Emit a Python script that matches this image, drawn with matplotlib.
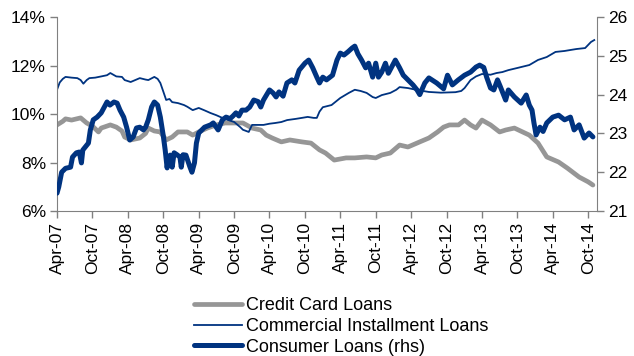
import matplotlib
matplotlib.use("Agg")
import matplotlib.pyplot as plt
import pandas as pd

plt.rcParams['font.family'] = ['Liberation Sans', 'DejaVu Sans']

# Credit card loan rate, % (left axis)
cc_dates = [
    "2007-04-01", "2007-05-01", "2007-05-15", "2007-06-15", "2007-08-01", "2007-09-01",
    "2007-10-01", "2007-11-01", "2007-11-15", "2008-01-01", "2008-02-01", "2008-03-01",
    "2008-03-15", "2008-04-15", "2008-06-01", "2008-07-01", "2008-07-15", "2008-08-15",
    "2008-09-15", "2008-10-15", "2008-11-15", "2008-12-15", "2009-02-01", "2009-03-01",
    "2009-04-01", "2009-05-15", "2009-07-01", "2009-08-15", "2009-09-15", "2009-11-15",
    "2010-01-01", "2010-02-15", "2010-03-15", "2010-04-15", "2010-06-01", "2010-07-15",
    "2010-09-15", "2010-11-01", "2010-12-15", "2011-01-15", "2011-03-01", "2011-05-01",
    "2011-06-15", "2011-08-15", "2011-10-01", "2011-11-01", "2011-12-15", "2012-02-01",
    "2012-03-15", "2012-05-15", "2012-07-01", "2012-08-15", "2012-09-15", "2012-10-15",
    "2012-12-01", "2013-01-01", "2013-02-01", "2013-03-01", "2013-04-01", "2013-05-15",
    "2013-07-01", "2013-08-01", "2013-09-15", "2013-12-01", "2014-01-15", "2014-03-01",
    "2014-05-01", "2014-06-15", "2014-08-15", "2014-10-01", "2014-10-25",
]
cc_rate = [
    9.55, 9.70, 9.80, 9.75, 9.84, 9.63,
    9.50, 9.26, 9.42, 9.55, 9.46, 9.30,
    9.05, 8.93, 9.01, 9.20, 9.42, 9.30,
    9.26, 8.93, 9.05, 9.26, 9.26, 9.13,
    9.26, 9.42, 9.55, 9.63, 9.63, 9.63,
    9.42, 9.34, 9.13, 9.01, 8.85, 8.93,
    8.85, 8.80, 8.52, 8.39, 8.10, 8.19,
    8.19, 8.23, 8.19, 8.31, 8.39, 8.72,
    8.64, 8.85, 9.01, 9.26, 9.46, 9.55,
    9.55, 9.75, 9.55, 9.42, 9.75, 9.55,
    9.26, 9.34, 9.42, 9.13, 8.80, 8.23,
    8.02, 7.77, 7.40, 7.20, 7.07,
]

# Commercial installment loan rate, % (left axis)
ci_dates = [
    "2007-04-01", "2007-04-15", "2007-05-01", "2007-05-15", "2007-06-15", "2007-07-15",
    "2007-08-01", "2007-08-15", "2007-09-01", "2007-09-15", "2007-10-15", "2007-11-15",
    "2007-12-15", "2008-01-01", "2008-02-01", "2008-03-01", "2008-03-15", "2008-04-15",
    "2008-06-01", "2008-07-01", "2008-07-15", "2008-08-15", "2008-09-01", "2008-09-15",
    "2008-10-01", "2008-10-15", "2008-11-01", "2008-11-15", "2008-12-15", "2009-01-15",
    "2009-02-01", "2009-03-01", "2009-04-01", "2009-05-01", "2009-06-01", "2009-07-01",
    "2009-08-01", "2009-09-01", "2009-10-01", "2009-11-01", "2009-11-15", "2009-12-15",
    "2010-01-01", "2010-03-01", "2010-04-01", "2010-05-01", "2010-06-01", "2010-07-01",
    "2010-08-15", "2010-09-15", "2010-10-15", "2010-11-15", "2010-12-01", "2010-12-15",
    "2011-01-01", "2011-02-15", "2011-04-01", "2011-05-15", "2011-06-15", "2011-07-15",
    "2011-08-15", "2011-09-15", "2011-10-01", "2011-11-01", "2011-12-15", "2012-01-15",
    "2012-02-01", "2012-03-15", "2012-05-01", "2012-07-01", "2012-09-01", "2012-11-15",
    "2012-12-15", "2013-01-01", "2013-02-01", "2013-03-01", "2013-04-01", "2013-05-15",
    "2013-06-15", "2013-07-15", "2013-08-15", "2013-10-01", "2013-12-01", "2014-01-15",
    "2014-03-01", "2014-04-15", "2014-06-01", "2014-07-01", "2014-08-01", "2014-09-15",
    "2014-10-15", "2014-11-01",
]
ci_rate = [
    11.00, 11.30, 11.45, 11.53, 11.50, 11.48,
    11.40, 11.25, 11.40, 11.48, 11.50, 11.55,
    11.60, 11.69, 11.55, 11.53, 11.40, 11.32,
    11.48, 11.42, 11.40, 11.53, 11.45, 11.28,
    10.91, 10.58, 10.62, 10.49, 10.45, 10.37,
    10.30, 10.16, 10.25, 10.15, 10.04, 9.95,
    9.84, 9.75, 9.67, 9.46, 9.35, 9.26,
    9.55, 9.55, 9.60, 9.63, 9.67, 9.75,
    9.80, 9.84, 9.88, 9.84, 9.84, 10.10,
    10.28, 10.37, 10.66, 10.87, 11.00, 10.95,
    10.87, 10.70, 10.66, 10.78, 10.87, 11.00,
    11.11, 11.07, 10.99, 10.91, 10.88, 10.90,
    10.95, 11.07, 11.40, 11.55, 11.65, 11.62,
    11.69, 11.73, 11.81, 11.90, 12.02, 12.23,
    12.35, 12.56, 12.60, 12.64, 12.68, 12.72,
    12.97, 13.05,
]

# Consumer loan rate, % (right axis)
cl_dates = [
    "2007-04-01", "2007-04-10", "2007-04-25", "2007-05-15", "2007-06-10", "2007-06-20",
    "2007-07-10", "2007-07-25", "2007-08-05", "2007-08-12", "2007-08-25", "2007-09-10",
    "2007-09-20", "2007-10-05", "2007-10-25", "2007-11-15", "2007-12-01", "2007-12-15",
    "2007-12-30", "2008-01-20", "2008-02-05", "2008-02-20", "2008-03-10", "2008-03-25",
    "2008-04-10", "2008-04-28", "2008-05-15", "2008-06-01", "2008-06-20", "2008-07-01",
    "2008-07-15", "2008-08-01", "2008-08-15", "2008-09-01", "2008-09-15", "2008-10-01",
    "2008-10-10", "2008-10-20", "2008-10-27", "2008-11-05", "2008-11-15", "2008-11-25",
    "2008-12-10", "2008-12-25", "2009-01-01", "2009-01-10", "2009-01-25", "2009-02-15",
    "2009-02-25", "2009-03-10", "2009-03-20", "2009-04-01", "2009-05-01", "2009-06-01",
    "2009-06-15", "2009-07-10", "2009-08-01", "2009-08-20", "2009-09-10", "2009-09-25",
    "2009-10-10", "2009-10-25", "2009-11-10", "2009-12-01", "2009-12-20", "2010-01-10",
    "2010-02-01", "2010-02-15", "2010-03-01", "2010-04-01", "2010-04-20", "2010-05-05",
    "2010-05-20", "2010-06-10", "2010-06-30", "2010-07-25", "2010-08-10", "2010-09-01",
    "2010-10-01", "2010-10-20", "2010-11-10", "2010-12-01", "2010-12-15", "2011-01-01",
    "2011-01-20", "2011-02-20", "2011-03-15", "2011-04-01", "2011-04-20", "2011-05-10",
    "2011-06-01", "2011-06-15", "2011-07-01", "2011-07-20", "2011-08-10", "2011-08-25",
    "2011-09-15", "2011-10-01", "2011-10-15", "2011-11-01", "2011-11-20", "2011-12-05",
    "2012-01-10", "2012-02-01", "2012-02-20", "2012-03-15", "2012-04-10", "2012-05-01",
    "2012-05-15", "2012-06-10", "2012-07-01", "2012-08-10", "2012-09-15", "2012-10-05",
    "2012-10-30", "2012-11-30", "2013-01-01", "2013-02-01", "2013-03-01", "2013-03-20",
    "2013-04-10", "2013-04-25", "2013-05-15", "2013-06-01", "2013-06-20", "2013-07-05",
    "2013-08-01", "2013-08-15", "2013-09-15", "2013-10-20", "2013-11-15", "2013-12-01",
    "2013-12-15", "2013-12-25", "2014-01-05", "2014-01-25", "2014-02-10", "2014-03-01",
    "2014-04-01", "2014-05-01", "2014-06-01", "2014-07-01", "2014-07-20", "2014-08-15",
    "2014-09-10", "2014-10-05", "2014-10-25",
]
cl_rate = [
    21.46, 21.62, 22.00, 22.10, 22.13, 22.39,
    22.50, 22.52, 22.24, 22.57, 22.65, 22.75,
    23.09, 23.35, 23.42, 23.53, 23.68, 23.81,
    23.73, 23.81, 23.78, 23.60, 23.42, 23.16,
    22.83, 22.91, 23.14, 23.16, 23.09, 23.16,
    23.35, 23.68, 23.81, 23.73, 23.42, 22.91,
    22.57, 22.11, 22.39, 22.44, 22.13, 22.50,
    22.45, 22.39, 22.13, 22.45, 22.44, 22.13,
    22.00, 22.24, 22.75, 23.01, 23.16, 23.22,
    23.27, 23.09, 23.35, 23.42, 23.38, 23.45,
    23.53, 23.45, 23.60, 23.60, 23.68, 23.86,
    23.82, 23.68, 23.86, 24.12, 24.04, 23.94,
    24.07, 23.96, 24.30, 24.38, 24.30, 24.63,
    24.81, 24.89, 24.69, 24.45, 24.30, 24.45,
    24.38, 24.50, 24.89, 25.07, 25.02, 25.10,
    25.20, 25.25, 25.05, 24.89, 24.69, 24.81,
    24.45, 24.81, 24.45, 24.58, 24.81, 24.55,
    24.89, 24.69, 24.50, 24.38, 24.25, 24.12,
    24.00, 24.30, 24.43, 24.30, 24.15, 24.50,
    24.25, 24.38, 24.50, 24.58, 24.71, 24.76,
    24.70, 24.45, 24.17, 24.12, 24.38, 24.20,
    23.86, 24.12, 23.94, 23.78, 23.99, 23.73,
    23.60, 23.27, 22.96, 23.16, 23.05, 23.27,
    23.42, 23.47, 23.35, 23.42, 23.09, 23.22,
    22.88, 23.01, 22.91,
]

tick_labels = ["Apr-07", "Oct-07", "Apr-08", "Oct-08", "Apr-09", "Oct-09", "Apr-10", "Oct-10",
               "Apr-11", "Oct-11", "Apr-12", "Oct-12", "Apr-13", "Oct-13", "Apr-14", "Oct-14"]
left_ticks = [6, 8, 10, 12, 14]
right_ticks = [21, 22, 23, 24, 25, 26]

NAVY = "#003380"
GREY = "#969696"
AXIS = "#808080"
TICK_FS = 12.5

fig = plt.figure(figsize=(6.34, 3.56), dpi=100)
ax = fig.add_axes([0.0899, 0.4073, 0.8517, 0.5449])
ax2 = ax.twinx()

l1, = ax.plot(pd.to_datetime(cc_dates), cc_rate, color=GREY, lw=3.4,
              solid_capstyle="round", solid_joinstyle="round", label="Credit Card Loans")
l2, = ax.plot(pd.to_datetime(ci_dates), ci_rate, color=NAVY, lw=1.3,
              solid_joinstyle="round", label="Commercial Installment Loans")
l3, = ax2.plot(pd.to_datetime(cl_dates), cl_rate, color=NAVY, lw=3.6,
               solid_capstyle="round", solid_joinstyle="round", label="Consumer Loans (rhs)")

tick_dates = pd.to_datetime(["20" + t[-2:] + ("-04-01" if t.startswith("Apr") else "-10-01")
                             for t in tick_labels])
ax.set_xlim(pd.Timestamp("2007-04-01"), pd.Timestamp("2014-11-15"))
ax.set_xticks(tick_dates)
ax.set_xticklabels(tick_labels, rotation=90, fontsize=TICK_FS)

ax.set_ylim(6, 14)
ax.set_yticks(left_ticks)
ax.set_yticklabels([f"{v}%" for v in left_ticks], fontsize=TICK_FS)
ax2.set_ylim(21, 26)
ax2.set_yticks(right_ticks)
ax2.set_yticklabels([str(v) for v in right_ticks], fontsize=TICK_FS)

for a in (ax, ax2):
    a.spines["top"].set_visible(False)
    for s in ("left", "right", "bottom"):
        a.spines[s].set_color(AXIS)
    a.tick_params(length=5, width=1, color=AXIS, pad=3, labelcolor="black")
ax.spines["right"].set_visible(False)
ax2.spines["left"].set_visible(False)
ax2.spines["bottom"].set_visible(False)

fig.legend(handles=[l1, l2, l3], loc="upper left", bbox_to_anchor=(0.291, 0.190),
           frameon=False, fontsize=13, handlelength=2.7, handletextpad=0.18,
           labelspacing=0.2, borderpad=0)

fig.savefig("out.png", dpi=100)
